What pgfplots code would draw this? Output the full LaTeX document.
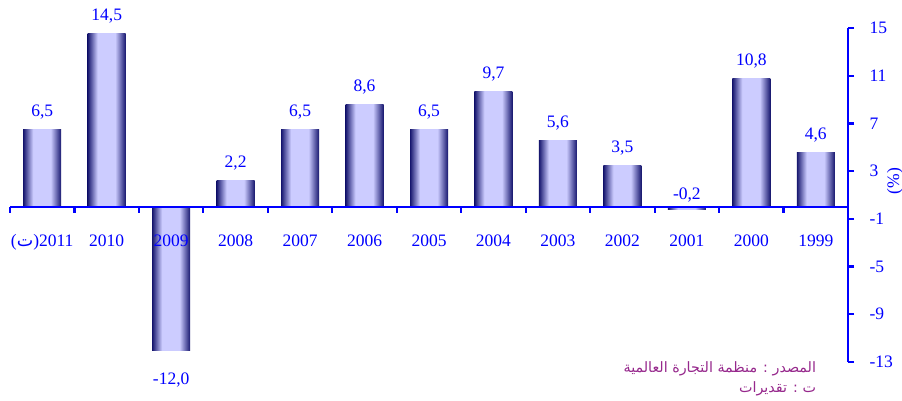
\documentclass[border=0pt]{standalone}
\usepackage{pgfplots}
\pgfplotsset{compat=1.18}
\usepackage{pgfplotstable}
\usepackage{fontspec}
\setmainfont{Liberation Serif}
\newfontfamily\arabicfont[Script=Arabic]{DejaVu Sans}
\TeXXeTstate=1

\definecolor{barnavy}{RGB}{22,22,110}
\definecolor{barlight}{RGB}{204,204,255}
\definecolor{srcpurple}{RGB}{150,40,140}
\pgfdeclarehorizontalshading{barshade}{100bp}{color(0bp)=(barnavy); color(25bp)=(barnavy); color(38bp)=(barlight); color(61bp)=(barlight); color(75bp)=(barnavy); color(100bp)=(barnavy)}

% growth, 2011 (estimate) on the left to 1999 on the right
\pgfplotstableread{
x  y     ly     lab
0  6.5   6.5    {6,5}
1  14.5  14.5   {14,5}
2  -12.0 -12.0  {-12,0}
3  2.2   2.2    {2,2}
4  6.5   6.5    {6,5}
5  8.6   8.6    {8,6}
6  6.5   6.5    {6,5}
7  9.7   9.7    {9,7}
8  5.6   5.6    {5,6}
9  3.5   3.5    {3,5}
10 -0.2  -0.5   {-0,2}
11 10.8  10.8   {10,8}
12 4.6   4.6    {4,6}
}\growth

\begin{document}
\begin{tikzpicture}
\path[use as bounding box] (0,0) rectangle (902pt,401pt);
\begin{axis}[
    at={(10pt,39pt)}, anchor=south west,
    scale only axis, width=838pt, height=334pt,
    font=\fontsize{17.5}{20}\selectfont,
    xmin=-0.5, xmax=12.5,
    ymin=-13, ymax=15,
    axis x line=middle,
    axis y line=right,
    axis line style={-, blue, line width=2.6pt},
    axis on top,
    hide obscured x ticks=false,
    tick align=outside,
    tick style={blue, line width=2.2pt},
    major tick length=6pt,
    minor tick length=6pt,
    xtick={0,...,12},
    xticklabels={{\mbox{(\arabicfont ت\rmfamily)2011}},2010,2009,2008,2007,2006,2005,2004,2003,2002,2001,2000,1999},
    major x tick style={draw=none},
    minor xtick={-0.5,0.5,...,11.5},
    xticklabel style={text=blue, anchor=base, yshift=-34pt},
    ytick={-13,-9,...,15},
    yticklabel style={text=blue, anchor=west, xshift=12pt},
    /pgf/number format/assume math mode=true,
    ylabel={(\%)},
    ylabel style={text=blue, at={(axis description cs:1.056,0.542)}, anchor=center, rotate=0},
    clip=false,
]
% one path per bar, so that each bar gets its own shading
\pgfplotsinvokeforeach{0,...,12}{
  \addplot[ybar, bar width=38pt, draw=none, shade, shading=barshade, shading angle=0,
      restrict x to domain=#1:#1]
      table[x=x, y=y] {\growth};
}
\addplot[draw=none, mark=none, nodes near coords, point meta=explicit symbolic,
    skip coords between index={2}{3},
    every node near coord/.style={text=blue, anchor=base, yshift=13pt}]
    table[x=x, y=ly, meta=lab] {\growth};
\addplot[draw=none, mark=none, nodes near coords, point meta=explicit symbolic,
    restrict x to domain=2:2,
    every node near coord/.style={text=blue, anchor=base, yshift=-34pt}]
    table[x=x, y=y, meta=lab] {\growth};
\node[text=srcpurple, font=\arabicfont\fontsize{14.3}{20}\selectfont, align=right, anchor=north east]
    at (axis description cs:0.966,0.012) {\beginR المصدر : منظمة التجارة العالمية\endR\\ \beginR ت : تقديرات\endR};
\end{axis}
\end{tikzpicture}
\end{document}
